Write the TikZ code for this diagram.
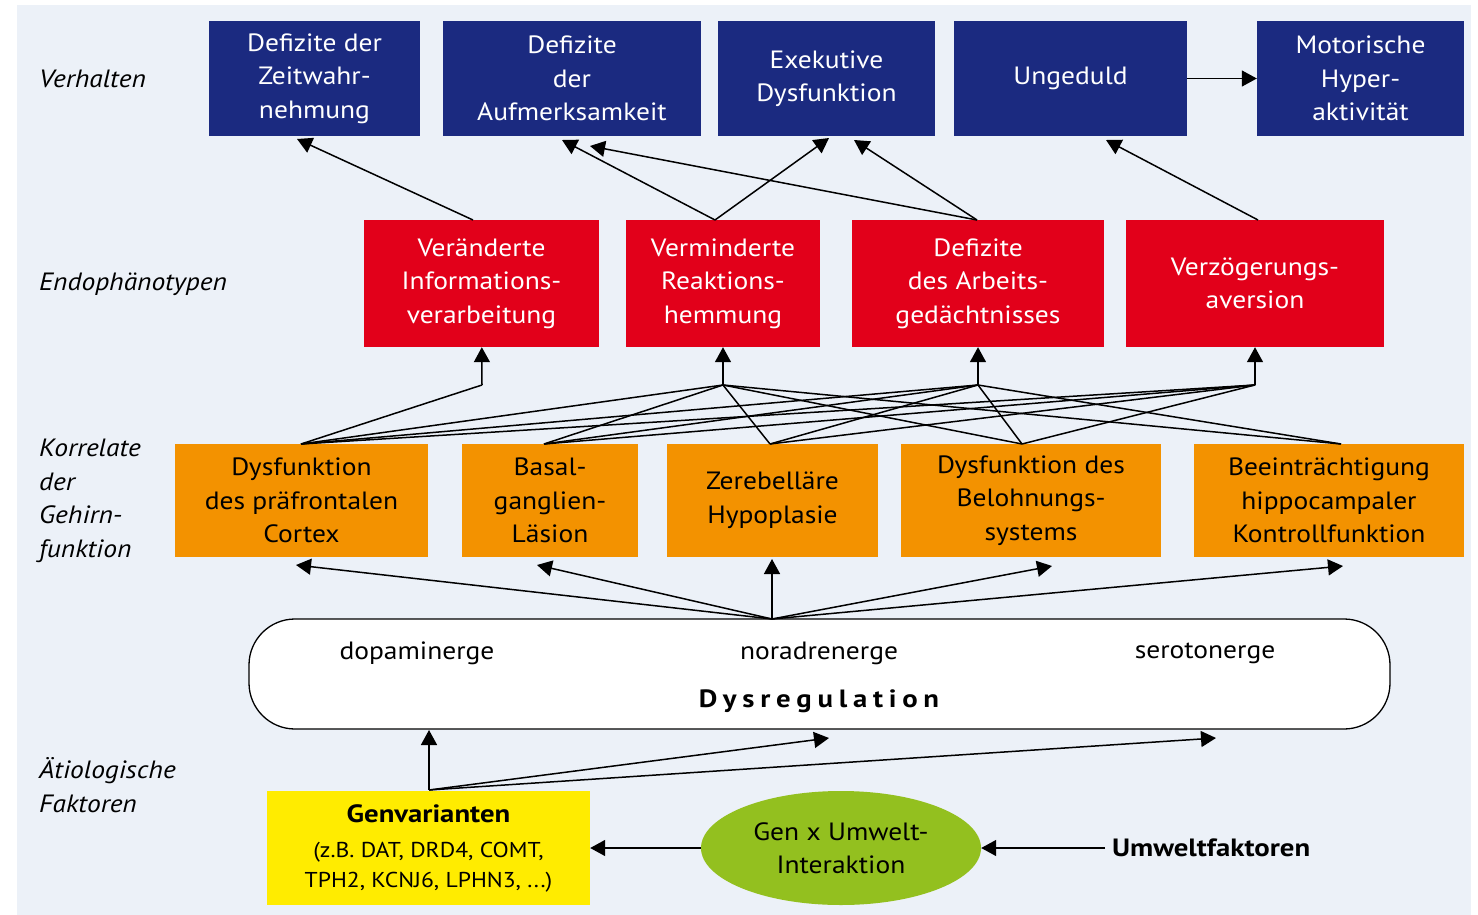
\documentclass[tikz,border=0pt]{standalone}
\usepackage{fontspec}
\setmainfont{PT Sans}[FakeStretch=1.1, BoldFeatures={FakeStretch=1.15}]
\usetikzlibrary{arrows.meta,shapes.geometric}

\definecolor{panel}{HTML}{ECF1F8}
\definecolor{navy}{HTML}{1B2A80}
\definecolor{signalred}{HTML}{E2001A}
\definecolor{amber}{HTML}{F39200}
\definecolor{lemon}{HTML}{FFEC00}
\definecolor{leaf}{HTML}{93C01F}

\newcommand\boxfont{\fontsize{25}{33.5}\selectfont}
\newcommand\genefont{\fontsize{21.5}{29}\selectfont}

\tikzset{
  box/.style={rectangle, inner sep=0pt, align=center, font=\boxfont},
  behav/.style={box, fill=navy, text=white, minimum height=115pt},
  endo/.style={box, fill=signalred, text=white, minimum height=127pt},
  brain/.style={box, fill=amber, text=black, minimum height=113pt},
  rowlabel/.style={anchor=west, align=left, inner sep=0pt, font=\boxfont\itshape},
  link/.style={line width=1.5pt},
  arr/.style={line width=1.5pt, -{Triangle[length=15pt,width=16pt]}},
}

\begin{document}
\begin{tikzpicture}[x=1pt, y=-1pt]
  \useasboundingbox (0,0) rectangle (1478,915);
  \fill[panel] (17,5) rectangle (1471,915);

  % row labels
  \node[rowlabel] (lv) at (39,79) {Verhalten};
  \node[rowlabel] (le) at (39,284) {Endophänotypen};
  \node[rowlabel] (lk) at (39,501) {Korrelate\\der\\Gehirn-\\funktion};
  \node[rowlabel] (la) at (39,785) {Ätiologische\\Faktoren};

  % behaviour
  \node[behav, minimum width=211pt] (b1) at (314.5,78.5) {Defizite der\\Zeitwahr-\\nehmung};
  \node[behav, minimum width=258pt] (b2) at (572,78.5) {Defizite\\der\\Aufmerksamkeit};
  \node[behav, minimum width=217pt] (b3) at (826.5,78.5) {Exekutive\\Dysfunktion};
  \node[behav, minimum width=233pt] (b4) at (1070.5,78.5) {Ungeduld};
  \node[behav, minimum width=207pt] (b5) at (1360.5,78.5) {Motorische\\Hyper-\\aktivität};

  % endophenotypes
  \node[endo, minimum width=235pt] (r1) at (481.5,283.5) {Veränderte\\Informations-\\verarbeitung};
  \node[endo, minimum width=194pt] (r2) at (723,283.5) {Verminderte\\Reaktions-\\hemmung};
  \node[endo, minimum width=252pt] (r3) at (978,283.5) {Defizite\\des Arbeits-\\gedächtnisses};
  \node[endo, minimum width=258pt] (r4) at (1255,283.5) {Verzögerungs-\\aversion};

  % brain correlates
  \node[brain, minimum width=253pt] (o1) at (301.5,500.5) {Dysfunktion\\des präfrontalen\\Cortex};
  \node[brain, minimum width=176pt] (o2) at (550,500.5) {Basal-\\ganglien-\\Läsion};
  \node[brain, minimum width=211pt] (o3) at (772.5,500.5) {Zerebelläre\\Hypoplasie};
  \node[brain, minimum width=260pt] (o4) at (1031,500.5) {Dysfunktion des\\Belohnungs-\\systems};
  \node[brain, minimum width=270pt] (o5) at (1329,500.5) {Beeinträchtigung\\hippocampaler\\Kontrollfunktion};

  % dysregulation
  \node[draw, line width=1.3pt, fill=white, rounded corners=46pt, minimum width=1141pt,
        minimum height=110pt, inner sep=0pt] (dys) at (819.5,674) {};
  \node[font=\boxfont, inner sep=0pt] (dopa) at (417,653) {dopaminerge};
  \node[font=\boxfont, inner sep=0pt] (nora) at (819,653) {noradrenerge};
  \node[font=\boxfont, inner sep=0pt] (sero) at (1205,653) {serotonerge};
  \node[font=\boxfont\bfseries, inner sep=0pt] (dysl) at (819,701)
       {\addfontfeatures{LetterSpace=23}Dysregulation};

  % aetiology
  \node[box, fill=lemon, minimum width=323pt, minimum height=114pt] (gen) at (428.5,848)
       {\textbf{Genvarianten}\\[2pt]{\genefont (z.B. DAT, DRD4, COMT,}\\[-4pt]{\genefont TPH2, KCNJ6, LPHN3, ...)}};
  \node[ellipse, fill=leaf, inner sep=0pt, minimum width=280pt, minimum height=114pt,
        align=center, font=\boxfont] (gxu) at (841,848) {Gen x Umwelt-\\Interaktion};
  \node[font=\boxfont\bfseries, anchor=west, inner sep=0pt] (umw) at (1112,848) {Umweltfaktoren};

  % connector ends
  \coordinate (r1s) at (473,220);
  \coordinate (r2s) at (715,220);
  \coordinate (r3s) at (977,220);
  \coordinate (r4s) at (1258,220);
  \coordinate (b1t) at (297,139);
  \coordinate (b2t) at (562,140);
  \coordinate (b2u) at (590,146);
  \coordinate (b3t) at (829,138);
  \coordinate (b3u) at (854,140);
  \coordinate (b4t) at (1106,140);

  \coordinate (j1) at (482,385);
  \coordinate (j2) at (723,385);
  \coordinate (j3) at (978,385);
  \coordinate (j4) at (1255,385);
  \coordinate (p1) at (301,444);
  \coordinate (p2) at (544,444);
  \coordinate (p3) at (770,444);
  \coordinate (p4) at (1022,444);
  \coordinate (p5) at (1341,444);

  \coordinate (d0) at (772,619);
  \coordinate (t1) at (296,565);
  \coordinate (t2) at (537,565);
  \coordinate (t3) at (772,559);
  \coordinate (t4) at (1052,566);
  \coordinate (t5) at (1343,566);

  \coordinate (g0) at (429,790);
  \coordinate (u1) at (429,730);
  \coordinate (u2) at (829,738);
  \coordinate (u3) at (1216,738);

  % endophenotypes -> behaviour
  \draw[arr] (r1s) -- (b1t);
  \draw[arr] (r2s) -- (b2t);
  \draw[arr] (r2s) -- (b3t);
  \draw[arr] (r3s) -- (b2u);
  \draw[arr] (r3s) -- (b3u);
  \draw[arr] (r4s) -- (b4t);
  \draw[arr] (b4) -- (b5);

  % brain correlates -> endophenotypes
  \draw[arr] (j1) -- (r1);
  \draw[arr] (j2) -- (r2);
  \draw[arr] (j3) -- (r3);
  \draw[arr] (j4) -- (r4);
  \draw[link] (p1) -- (j1);
  \foreach \p in {p1,p2,p3,p4,p5} {
    \draw[link] (\p) -- (j2);
    \draw[link] (\p) -- (j3);
  }
  \foreach \p in {p1,p2,p3,p4} {
    \draw[link] (\p) -- (j4);
  }

  % dysregulation -> brain correlates
  \foreach \t in {t1,t2,t3,t4,t5} {
    \draw[arr] (d0) -- (\t);
  }

  % aetiology
  \draw[arr] (g0) -- (u1);
  \draw[arr] (g0) -- (u2);
  \draw[arr] (g0) -- (u3);
  \draw[arr] (gxu) -- (gen);
  \coordinate (uw) at (1105,848);
  \draw[arr] (uw) -- (gxu);
\end{tikzpicture}
\end{document}
